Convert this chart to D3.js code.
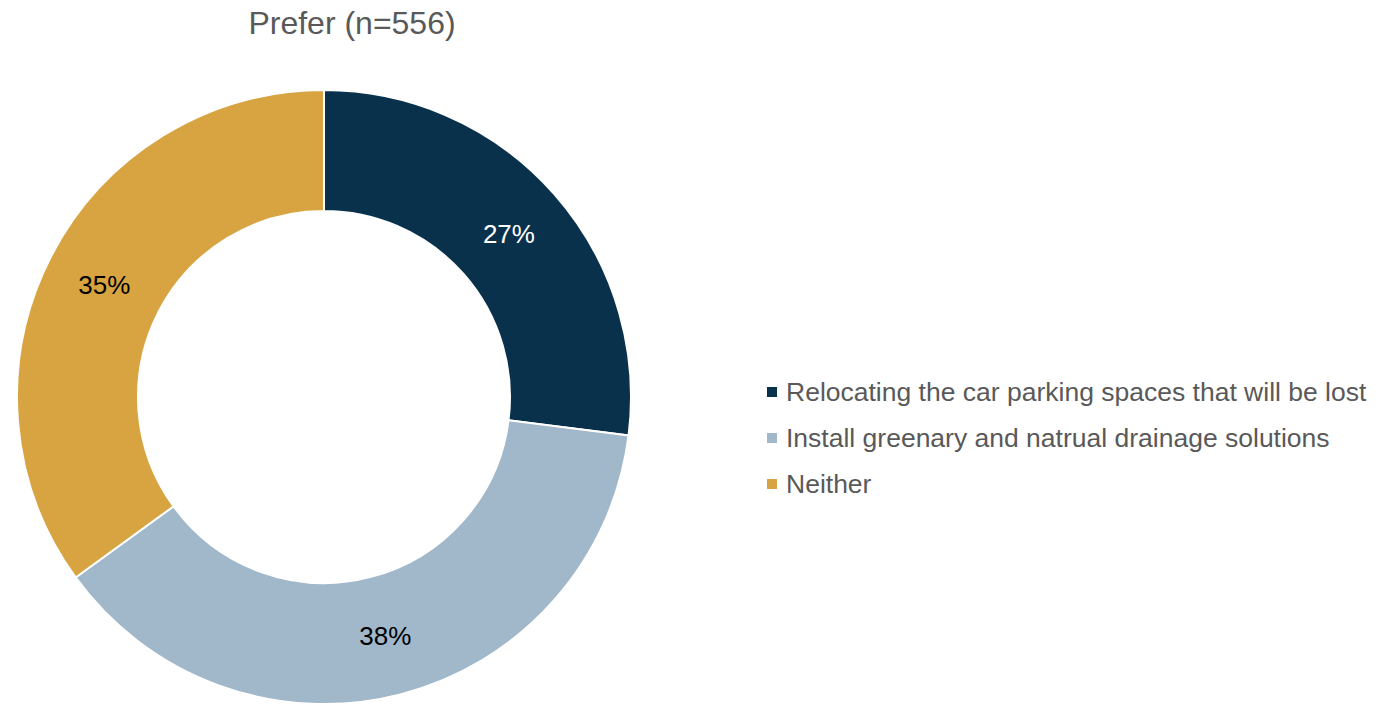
<!DOCTYPE html>
<html>
<head>
<meta charset="utf-8">
<script src="https://cdn.jsdelivr.net/npm/d3@7"></script>
<style>
  body { margin: 0; background: #fff; }
  text { font-family: "Liberation Sans", Arial, sans-serif; }
</style>
</head>
<body>
<svg id="chart" width="1390" height="704"></svg>
<script>
// chart data
var title = "Prefer (n=556)";
var categories = ["Relocating the car parking spaces that will be lost",
  "Install greenary and natrual drainage solutions",
  "Neither"];
var values = [27, 38, 35];
var colors = ["#0A314C", "#A1B7CA", "#D8A441"];
var labelColors = ["#ffffff", "#000000", "#000000"];

var svg = d3.select("#chart");
var cx = 324, cy = 397;
var outerR = 307, innerR = 186;

svg.append("text")
  .attr("x", 352).attr("y", 34)
  .attr("text-anchor", "middle")
  .attr("font-size", 32)
  .attr("fill", "#595959")
  .text(title);

var pie = d3.pie().sort(null)(values);
var arc = d3.arc().innerRadius(innerR).outerRadius(outerR);
var labelArc = d3.arc().innerRadius(innerR).outerRadius(outerR);

var g = svg.append("g").attr("transform", `translate(${cx},${cy})`);

g.selectAll("path").data(pie).enter().append("path")
  .attr("d", arc)
  .attr("fill", function(d, i) { return colors[i]; })
  .attr("stroke", "#fff")
  .attr("stroke-width", 2);

g.selectAll("text.lbl").data(pie).enter().append("text")
  .attr("class", "lbl")
  .attr("transform", function(d) { return `translate(${labelArc.centroid(d)})`; })
  .attr("text-anchor", "middle")
  .attr("dy", "0.35em")
  .attr("font-size", 26)
  .attr("fill", function(d, i) { return labelColors[i]; })
  .text(function(d) { return d.data + "%"; });

// legend
var legend = svg.append("g").attr("transform", "translate(767,392)");
var rows = legend.selectAll("g").data(categories).enter().append("g")
  .attr("transform", function(d, i) { return `translate(0,${i * 46})`; });
rows.append("rect")
  .attr("x", 0).attr("y", -5).attr("width", 10).attr("height", 10)
  .attr("fill", function(d, i) { return colors[i]; });
rows.append("text")
  .attr("x", 19).attr("dy", "0.35em")
  .attr("font-size", 26.5)
  .attr("fill", "#595959")
  .text(function(d) { return d; });
</script>
</body>
</html>
